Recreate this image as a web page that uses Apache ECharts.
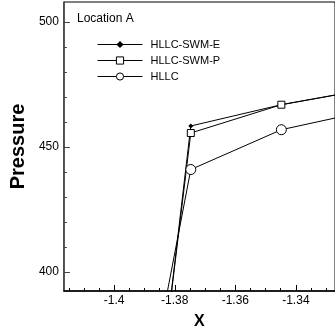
<!DOCTYPE html>
<html><head><meta charset="utf-8">
<script src="https://cdn.jsdelivr.net/npm/echarts@6/dist/echarts.min.js"></script>
<style>html,body{margin:0;padding:0;background:#fff}#c{width:335px;height:335px}</style>
</head><body><div id="c"></div>
<script>
const xValues = [-1.4047, -1.3747, -1.3448, -1.3149];
const swmE = [149, 458.4, 466.9, 473.4];
const swmP = [156, 455.6, 466.9, 473.4];
const hllc = [252, 441.0, 456.9, 464.8];
const xMajor = [-1.4, -1.38, -1.36, -1.34];
const xMinor = [-1.415, -1.41, -1.405, -1.395, -1.39, -1.385, -1.375, -1.37, -1.365, -1.355, -1.35, -1.345, -1.335, -1.33];
const yMajor = [400, 450, 500];
const yMinor = [410, 420, 430, 440, 460, 470, 480, 490];
const font = 'Liberation Sans, Arial, sans-serif';

const pairs = v => xValues.map((x, i) => [x, v[i]]);
const chart = echarts.init(document.getElementById('c'));
const xMin = -1.4166, xMax = -1.32708, yMin = 392.46, yMax = 507.94;
chart.setOption({
  animation: false,
  grid: {left: 58, top: 2, right: -5, bottom: 42, show: true, borderColor: '#000', borderWidth: 1, backgroundColor: 'transparent'},
  title: {text: 'Location A', left: 77, top: 13, padding: 0, textStyle: {fontFamily: font, fontSize: 12, fontWeight: 'normal', color: '#000'}},
  legend: {
    orient: 'vertical', left: 97, top: 39, itemWidth: 45, itemHeight: 9, itemGap: 5, padding: 0,
    lineStyle: {width: 1, color: '#000'},
    itemStyle: {borderWidth: 1},
    textStyle: {fontFamily: font, fontSize: 11, color: '#000', padding: [0, 0, 0, 3]},
    data: ['HLLC-SWM-E', 'HLLC-SWM-P', 'HLLC']
  },
  xAxis: [
    {type: 'value', min: xMin, max: xMax, position: 'bottom',
     name: 'X', nameLocation: 'middle', nameGap: 23,
     nameTextStyle: {fontFamily: font, fontSize: 16, fontWeight: 'bold', color: '#000'},
     axisLine: {show: true, lineStyle: {color: '#000', width: 1.5}},
     axisTick: {show: true, inside: true, length: 6, customValues: xMajor, lineStyle: {color: '#000'}},
     axisLabel: {customValues: xMajor, margin: 4, fontFamily: font, fontSize: 12, color: '#000'},
     splitLine: {show: false}},
    {type: 'value', min: xMin, max: xMax, position: 'bottom',
     axisLine: {show: false},
     axisTick: {show: true, inside: true, length: 3, customValues: xMinor, lineStyle: {color: '#000'}},
     axisLabel: {show: false}, splitLine: {show: false}}
  ],
  yAxis: [
    {type: 'value', min: yMin, max: yMax, position: 'left',
     name: 'Pressure', nameLocation: 'middle', nameGap: 22,
     nameTextStyle: {fontFamily: font, fontSize: 20, fontWeight: 'bold', color: '#000'},
     axisLine: {show: true, lineStyle: {color: '#444', width: 1.5}},
     axisTick: {show: true, inside: true, length: 6, customValues: yMajor, lineStyle: {color: '#444'}},
     axisLabel: {customValues: yMajor, margin: 5, fontFamily: font, fontSize: 12, color: '#000'},
     splitLine: {show: false}},
    {type: 'value', min: yMin, max: yMax, position: 'left',
     axisLine: {show: false},
     axisTick: {show: true, inside: true, length: 3, customValues: yMinor, lineStyle: {color: '#444'}},
     axisLabel: {show: false}, splitLine: {show: false}}
  ],
  series: [
    {name: 'HLLC-SWM-E', type: 'line', data: pairs(swmE), symbol: 'diamond', symbolSize: 5,
     itemStyle: {color: '#000'}, lineStyle: {color: '#000', width: 1}, clip: true},
    {name: 'HLLC-SWM-P', type: 'line', data: pairs(swmP), symbol: 'rect', symbolSize: 7,
     itemStyle: {color: '#fff', borderColor: '#000', borderWidth: 1}, lineStyle: {color: '#000', width: 1}, clip: true},
    {name: 'HLLC', type: 'line', data: pairs(hllc), symbol: 'circle', symbolSize: 10,
     itemStyle: {color: '#fff', borderColor: '#000', borderWidth: 1}, lineStyle: {color: '#000', width: 1}, clip: true}
  ]
});
</script></body></html>
